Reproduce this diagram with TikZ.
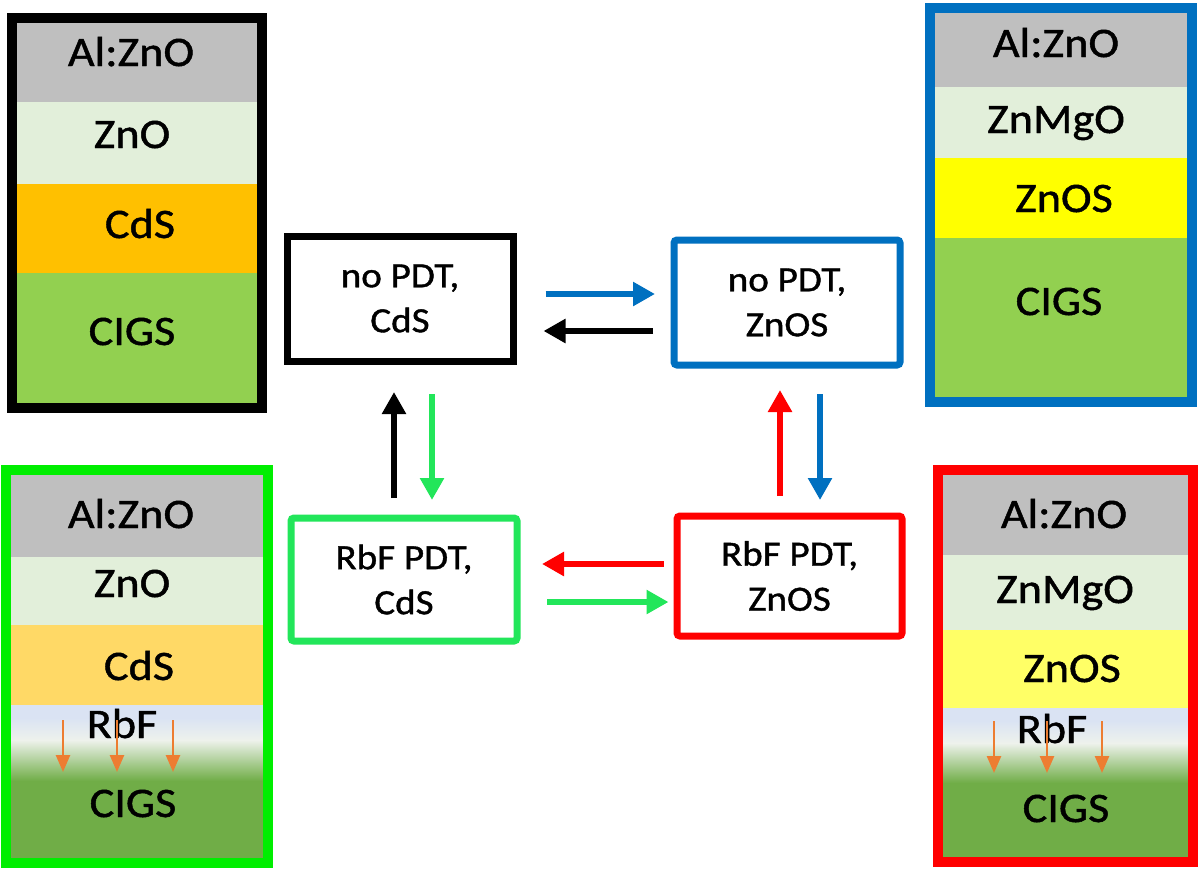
\documentclass[tikz,border=0pt]{standalone}
\usepackage{fontspec}
\setmainfont{Carlito}[FakeStretch=1.1, FakeBold=1.1]
\usetikzlibrary{arrows.meta}
\definecolor{lgray}{HTML}{BFBFBF}
\definecolor{zno}{HTML}{E2EFDA}
\definecolor{cds}{HTML}{FFC000}
\definecolor{cdslt}{HTML}{FFD966}
\definecolor{cigs}{HTML}{92D050}
\definecolor{cigsd}{HTML}{70AD47}
\definecolor{rbf}{HTML}{DAE3F3}
\definecolor{fade}{HTML}{EEF2EC}
\definecolor{znos}{HTML}{FFFF00}
\definecolor{znoslt}{HTML}{FFFF66}
\definecolor{cblue}{HTML}{0070C0}
\definecolor{cred}{HTML}{FF0000}
\definecolor{sgreen}{HTML}{00EE00}
\definecolor{bgreen}{HTML}{22E65A}
\definecolor{corange}{HTML}{ED7D31}
\begin{document}
\begin{tikzpicture}[x=1pt,y=-1pt,
  lay/.style={font=\fontsize{42}{44}\selectfont, anchor=base, inner sep=0pt},
  frame/.style={line width=10pt},
  cbox/.style={draw=#1, line width=7pt, minimum width=226pt, minimum height=125pt,
    align=center, font=\fontsize{35.5}{45}\selectfont, inner sep=0pt},
  arr/.style={line width=6.5pt, -{Triangle[length=22pt,width=23pt]}},
  diff/.style={line width=2.5pt, draw=corange, -{Triangle[length=17pt,width=14pt]}}]
\useasboundingbox (0,0) rectangle (1200,868);
\fill[white] (0,0) rectangle (1200,868);

% ---- black stack (top left)
\fill[lgray] (17,23) rectangle (257,102);
\fill[zno] (17,102) rectangle (257,184);
\fill[cds] (17,184) rectangle (257,273);
\fill[cigs] (17,273) rectangle (257,403);
\draw[frame, black] (12,18) rectangle (262,408);
\node[lay] (a1) at (131,66) {Al:ZnO};
\node[lay] (a2) at (132,148) {ZnO};
\node[lay] (a3) at (140,238) {CdS};
\node[lay] (a4) at (132,345) {CIGS};

% ---- green stack (bottom left)
\fill[lgray] (11,475) rectangle (263,557);
\fill[zno] (11,557) rectangle (263,625);
\fill[cdslt] (11,625) rectangle (263,705);
\fill[rbf] (11,705) rectangle (263,718);
\shade[top color=rbf, bottom color=fade] (11,717.5) rectangle (263,740.5);
\shade[top color=fade, bottom color=cigsd] (11,740) rectangle (263,781);
\fill[cigsd] (11,780.5) rectangle (263,858);
\draw[frame, sgreen] (6,470) rectangle (268,863);
\node[lay] (b1) at (131,528) {Al:ZnO};
\node[lay] (b2) at (132,597) {ZnO};
\node[lay] (b3) at (139,680) {CdS};
\node[lay] (b4) at (122,738) {RbF};
\node[lay] (b5) at (133,817) {CIGS};
\coordinate (bs1) at (63,720);  \coordinate (be1) at (63,772);
\coordinate (bs2) at (117,720); \coordinate (be2) at (117,772);
\coordinate (bs3) at (173,720); \coordinate (be3) at (173,772);
\draw[diff] (bs1) -- (be1);
\draw[diff] (bs2) -- (be2);
\draw[diff] (bs3) -- (be3);

% ---- blue stack (top right)
\fill[lgray] (935,13) rectangle (1187,87);
\fill[zno] (935,87) rectangle (1187,158);
\fill[znos] (935,158) rectangle (1187,238);
\fill[cigs] (935,238) rectangle (1187,397);
\draw[frame, cblue] (930,8) rectangle (1192,402);
\node[lay] (c1) at (1056,57) {Al:ZnO};
\node[lay] (c2) at (1056,133) {ZnMgO};
\node[lay] (c3) at (1064,212) {ZnOS};
\node[lay] (c4) at (1059,315) {CIGS};

% ---- red stack (bottom right)
\fill[lgray] (943,475) rectangle (1188,555);
\fill[zno] (943,555) rectangle (1188,630);
\fill[znoslt] (943,630) rectangle (1188,708);
\fill[rbf] (943,708) rectangle (1188,721);
\shade[top color=rbf, bottom color=fade] (943,720.5) rectangle (1188,743.5);
\shade[top color=fade, bottom color=cigsd] (943,743) rectangle (1188,783);
\fill[cigsd] (943,782.5) rectangle (1188,857);
\draw[frame, cred] (938,470) rectangle (1193,862);
\node[lay] (d1) at (1064,528) {Al:ZnO};
\node[lay] (d2) at (1065,603) {ZnMgO};
\node[lay] (d3) at (1072,682) {ZnOS};
\node[lay] (d4) at (1052,743) {RbF};
\node[lay] (d5) at (1066,822) {CIGS};
\coordinate (ds1) at (994,721);  \coordinate (de1) at (994,773);
\coordinate (ds2) at (1047,721); \coordinate (de2) at (1047,773);
\coordinate (ds3) at (1102,721); \coordinate (de3) at (1102,773);
\draw[diff] (ds1) -- (de1);
\draw[diff] (ds2) -- (de2);
\draw[diff] (ds3) -- (de3);

% ---- central boxes
\node[cbox=black] (nb) at (400,298.5) {no PDT,\\CdS};
\node[cbox=cblue, rounded corners=3pt] (zb) at (787,302.5) {no PDT,\\ZnOS};
\node[cbox=bgreen, rounded corners=3pt, minimum height=123pt] (gb) at (404,579.5) {RbF PDT,\\CdS};
\node[cbox=cred, rounded corners=3pt, minimum width=225pt, minimum height=120pt] (rb) at (789.5,576) {RbF PDT,\\ZnOS};

% reference lines for the arrows
\coordinate (yA) at (0,294);
\coordinate (yB) at (0,331);
\coordinate (yC) at (0,564);
\coordinate (yD) at (0,602);
\coordinate (xA) at (394,0);
\coordinate (xB) at (432,0);
\coordinate (xC) at (780,0);
\coordinate (xD) at (820,0);

\draw[arr, cblue, shorten <=29pt, shorten >=15.5pt] (nb.east |- yA) -- (zb.west |- yA);
\draw[arr, black, shorten <=17.5pt, shorten >=27pt] (zb.west |- yB) -- (nb.east |- yB);
\draw[arr, cred, shorten <=10pt, shorten >=21.5pt] (rb.west |- yC) -- (gb.east |- yC);
\draw[arr, bgreen, shorten <=26.5pt, shorten >=5pt] (gb.east |- yD) -- (rb.west |- yD);
\draw[arr, black, shorten <=16.5pt, shorten >=27.5pt] (gb.north -| xA) -- (nb.south -| xA);
\draw[arr, bgreen, shorten <=29.5pt, shorten >=14.5pt] (nb.south -| xB) -- (gb.north -| xB);
\draw[arr, cred, shorten <=16.5pt, shorten >=21.5pt] (rb.north -| xC) -- (zb.south -| xC);
\draw[arr, cblue, shorten <=25.5pt, shorten >=12.5pt] (zb.south -| xD) -- (rb.north -| xD);
\end{tikzpicture}
\end{document}
